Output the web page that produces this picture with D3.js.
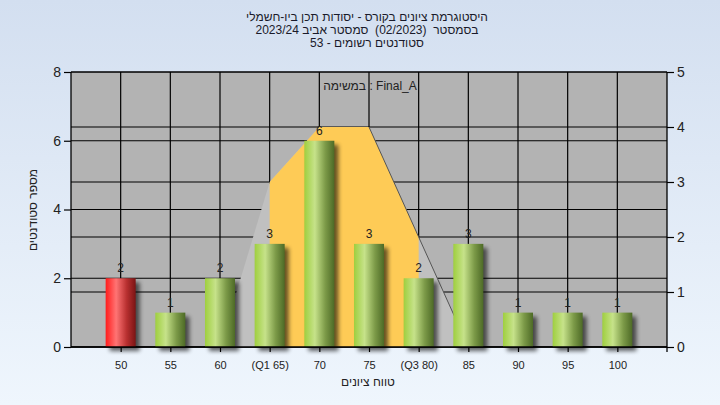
<!DOCTYPE html>
<html><head><meta charset="utf-8">
<script src="https://cdn.jsdelivr.net/npm/d3@7"></script>
<style>
html,body{margin:0;padding:0;}
svg{display:block;font-family:Arial, "Liberation Sans", sans-serif;}
text{white-space:pre;}
</style></head>
<body>
<svg id="c" width="720" height="405"></svg>
<script>
const categories = ["50","55","60","(Q1 65)","70","75","(Q3 80)","85","90","95","100"];
const counts = [2,1,2,3,6,3,2,3,1,1,1];
const highlightCats = ["50"];
const curveCats = ["60","(Q1 65)","70","75","(Q3 80)","85"];
const curveVals = [0,3,4,4,2,0];
const quartileRange = ["(Q1 65)","(Q3 80)"];
const leftTicks = [0,2,4,6,8];
const rightTicks = [0,1,2,3,4,5];
const titleLines = ["היסטוגרמת ציונים בקורס - יסודות תכן ביו-חשמלי","בסמסטר  (02/2023)  סמסטר אביב 2023/24","סטודנטים רשומים - 53"];
const taskLabel = "במשימה : Final_A";
const xLabel = "טווח ציונים";
const yLabel = "מספר סטודנטים";

const svg = d3.select("#c");
const L=71,R=667,T=72,B=347;
const defs = svg.append("defs");
const bg = defs.append("linearGradient").attr("id","bg").attr("x1",0).attr("y1",0).attr("x2",0).attr("y2",1);
bg.append("stop").attr("offset","0%").attr("stop-color","#d3dff0");
bg.append("stop").attr("offset","100%").attr("stop-color","#eff6fd");
const gG = defs.append("linearGradient").attr("id","gG");
[["0%","#9fcf3f"],["35%","#c6e28a"],["70%","#7c9a48"],["100%","#4d6a26"]].forEach(s=>gG.append("stop").attr("offset",s[0]).attr("stop-color",s[1]));
const gR = defs.append("linearGradient").attr("id","gR");
[["0%","#ff1c1c"],["35%","#ff7474"],["70%","#b83030"],["100%","#7a1414"]].forEach(s=>gR.append("stop").attr("offset",s[0]).attr("stop-color",s[1]));
const blur = defs.append("filter").attr("id","blur").attr("x","-50%").attr("y","-50%").attr("width","200%").attr("height","200%");
blur.append("feGaussianBlur").attr("stdDeviation",2.2);
defs.append("clipPath").attr("id","qclip").append("rect");

svg.append("rect").attr("width",720).attr("height",405).attr("fill","url(#bg)");

const x = d3.scalePoint().domain(categories).range([L,R]).padding(1);
const yL = d3.scaleLinear().domain([0,8]).range([B,T]);
const yR = d3.scaleLinear().domain([0,5]).range([B,T]);

svg.append("rect").attr("x",L).attr("y",T).attr("width",R-L).attr("height",B-T).attr("fill","#b3b3b3");

// grid
const grid = svg.append("g").attr("stroke","#000").attr("stroke-width",1.2);
categories.forEach(c=>grid.append("line").attr("x1",x(c)).attr("x2",x(c)).attr("y1",T).attr("y2",B));
leftTicks.forEach(t=>grid.append("line").attr("x1",L).attr("x2",R).attr("y1",yL(t)).attr("y2",yL(t)));
rightTicks.forEach(t=>grid.append("line").attr("x1",L).attr("x2",R).attr("y1",yR(t)).attr("y2",yR(t)));

// curve polygon
const pts = curveCats.map((c,i)=>[x(c),yR(curveVals[i])]);
const area = d3.area().x(d=>d[0]).y0(B).y1(d=>d[1]);
svg.append("path").attr("d",area(pts)).attr("fill","#c0c0c0");
const q0=x(quartileRange[0]), q1=x(quartileRange[1]);
defs.select("#qclip rect").attr("x",q0).attr("y",T).attr("width",q1-q0).attr("height",B-T);
svg.append("path").attr("d",area(pts)).attr("fill","#fecb56").attr("clip-path","url(#qclip)");
const topIdx = curveVals.lastIndexOf(d3.max(curveVals));
svg.append("path").attr("d",d3.line()(pts.slice(topIdx))).attr("fill","none").attr("stroke","#555").attr("stroke-width",1);

// bars
const bw=30;
const bars = svg.append("g");
categories.forEach((c,i)=>{
  const v=counts[i];
  bars.append("rect").attr("x",x(c)-bw/2+4).attr("y",yL(v)+4).attr("width",bw).attr("height",B-yL(v)).attr("fill","#000").attr("opacity",0.6).attr("filter","url(#blur)");
});
categories.forEach((c,i)=>{
  const v=counts[i];
  bars.append("rect").attr("x",x(c)-bw/2).attr("y",yL(v)).attr("width",bw).attr("height",B-yL(v)).attr("fill",highlightCats.includes(c)?"url(#gR)":"url(#gG)");
  bars.append("text").attr("x",x(c)).attr("y",yL(v)-6).attr("text-anchor","middle").attr("font-size",12).attr("fill","#222").text(v);
});

// axes
const ax = d3.axisLeft(yL).tickValues(leftTicks).tickSize(7).tickPadding(3).tickFormat(d3.format("d"));
const gl = svg.append("g").attr("transform",`translate(${L},0)`).call(ax);
const ar = d3.axisRight(yR).tickValues(rightTicks).tickSize(7).tickPadding(3).tickFormat(d3.format("d"));
const gr = svg.append("g").attr("transform",`translate(${R},0)`).call(ar);
const ab = d3.axisBottom(x).tickSize(5).tickPadding(9);
const gb = svg.append("g").attr("transform",`translate(0,${B})`).call(ab);
[gl,gr,gb].forEach(g=>{
  g.select(".domain").attr("stroke","#000").attr("stroke-width",1.3);
  g.selectAll(".tick line").attr("stroke","#000").attr("stroke-width",1.2);
  g.selectAll("text").attr("fill","#222").attr("font-family","Arial, 'Liberation Sans', sans-serif");
});
gl.selectAll("text").attr("font-size",14);
gr.selectAll("text").attr("font-size",14);
gb.selectAll("text").attr("font-size",11);
gl.select(".domain").attr("d",`M0,${T}V${B}`);
gr.select(".domain").attr("d",`M0,${T}V${B+5}`);
gb.select(".domain").attr("d",`M${L},0H${R}`);

// titles
titleLines.forEach((t,i)=>svg.append("text").attr("x",367).attr("y",21+i*13).attr("text-anchor","middle").attr("font-size",12).attr("fill","#1a1a2a").text(t));
svg.append("text").attr("x",370).attr("y",90).attr("text-anchor","middle").attr("font-size",12).attr("fill","#222").text(taskLabel);
svg.append("text").attr("x",368).attr("y",386).attr("text-anchor","middle").attr("font-size",12).attr("fill","#222").text(xLabel);
svg.append("text").attr("transform","translate(37,210) rotate(-90)").attr("text-anchor","middle").attr("font-size",12).attr("fill","#222").text(yLabel);
</script>
</body></html>
